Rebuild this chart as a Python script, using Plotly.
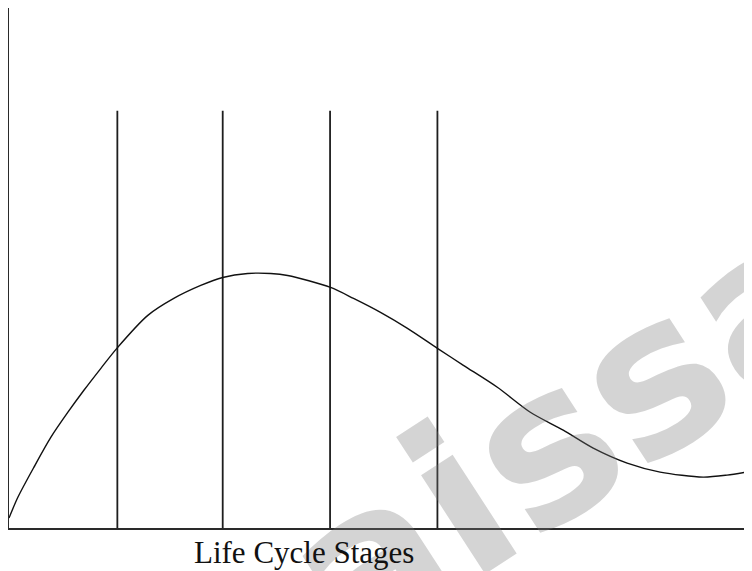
import plotly.graph_objects as go

# Curve (stage position vs sales level)
curve_x = [0, 9, 25, 42, 59, 75, 92, 108, 139, 165, 192, 214, 239, 262, 279, 322,
           345, 372, 399, 429, 455, 489, 522, 555, 585, 619, 652, 695, 719, 744]
curve_y = [10, 31, 61, 91, 116, 138, 160, 180, 213, 230, 243, 251, 255, 255, 253, 241,
           230, 216, 200, 180, 163, 141, 116, 98, 80, 65, 56, 51, 53, 57]

# Stage boundaries
stage_x = [108.5, 214, 321.5, 429]
stage_top = 418

x_max = 744
y_max = 521

axis_title = "Life Cycle Stages"
watermark = "aissa"

fig = go.Figure()

# watermark (semi transparent so lines show through)
fig.add_annotation(text=watermark, xref="paper", yref="paper", x=0.752, y=0.185,
                   xanchor="center", yanchor="middle", showarrow=False, textangle=-33,
                   font=dict(family="DejaVu Sans", size=215,
                             color="rgba(120,120,120,0.32)", weight="bold"))

vx, vy = [], []
for s in stage_x:
    vx += [s, s, None]
    vy += [0, stage_top, None]
fig.add_trace(go.Scatter(x=vx, y=vy, mode="lines", line=dict(color="#1e1e1e", width=1.8),
                         hoverinfo="skip", showlegend=False))

fig.add_trace(go.Scatter(x=curve_x, y=curve_y, mode="lines",
                         line=dict(color="#111111", width=1.4, shape="spline", smoothing=0.8),
                         showlegend=False, cliponaxis=False))

fig.add_annotation(text=axis_title, xref="paper", yref="paper", x=0.397, y=-0.048,
                   xanchor="center", yanchor="middle", showarrow=False,
                   font=dict(family="Liberation Serif", size=31, color="#111111"))

fig.update_layout(
    width=752, height=571,
    margin=dict(l=1, r=8, t=0, b=51),
    paper_bgcolor="white", plot_bgcolor="white",
    xaxis=dict(range=[0, x_max], showgrid=False, zeroline=False, showticklabels=False,
               ticks="", showline=True, linecolor="#2a2a2a", linewidth=2),
    yaxis=dict(range=[0, y_max], showgrid=False, zeroline=False, showticklabels=False,
               ticks="", showline=True, linecolor="#2a2a2a", linewidth=2),
)

fig.write_html("out.html")
